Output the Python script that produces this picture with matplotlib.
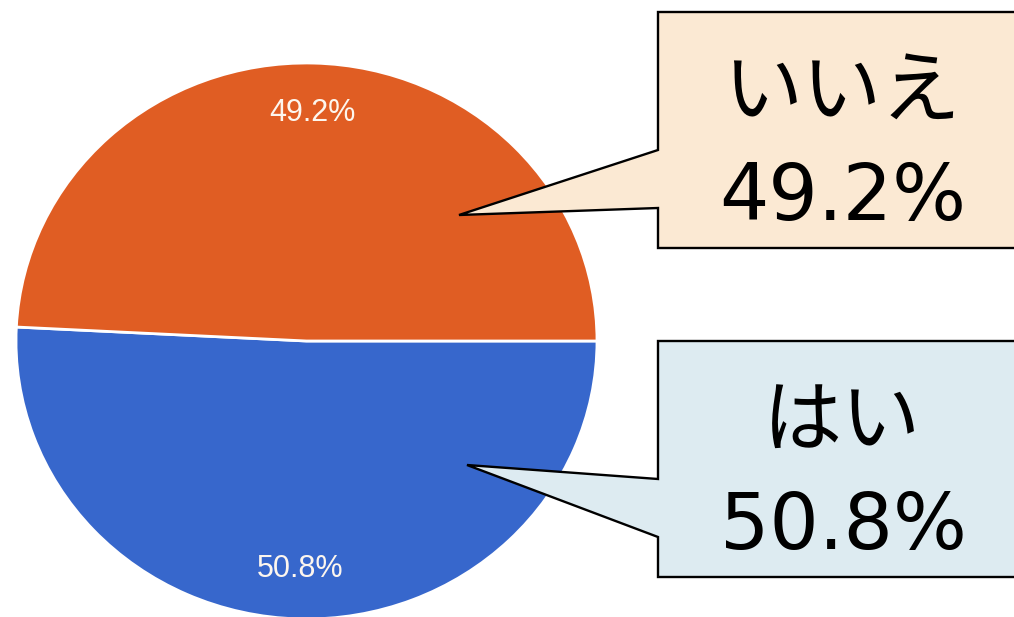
import matplotlib
matplotlib.use("Agg")
import matplotlib.pyplot as plt
from matplotlib.patches import Polygon

# data
labels = ["はい", "いいえ"]
values = [50.8, 49.2]
colors = ["#3767cc", "#e05d23"]
box_colors = ["#ddebf1", "#fbe9d3"]

W, H = 1014, 617
fig = plt.figure(figsize=(W / 100, H / 100), dpi=100)
fig.patch.set_facecolor("white")

# pie (slightly squashed vertically like the screenshot)
cx, cy, rx, ry = 306.5, 341, 290.5, 278
ax = fig.add_axes([(cx - rx) / W, (H - cy - ry) / H, 2 * rx / W, 2 * ry / H])
wedges, texts, autotexts = ax.pie(
    values, colors=colors, startangle=0, counterclock=False,
    autopct="%.1f%%", pctdistance=0.82,
    wedgeprops=dict(edgecolor="white", linewidth=2),
    textprops=dict(color="#fdf6ee", fontsize=22, family="Liberation Sans"))
ax.set_aspect("auto")
ax.set_xlim(-1, 1)
ax.set_ylim(-1, 1)
ax.axis("off")

# callout boxes, drawn in pixel coords
ov = fig.add_axes([0, 0, 1, 1])
ov.set_xlim(0, W)
ov.set_ylim(H, 0)
ov.axis("off")
ov.patch.set_alpha(0)

callouts = {
    # label index: (box top, box bottom, join top, join bottom, tip x, tip y)
    1: (12, 248, 150, 208, 459, 215),
    0: (341, 577, 479, 537, 467, 465),
}
bx0, bx1 = 658, 1030
for i, (top, bot, j0, j1, tx, ty) in callouts.items():
    pts = [(bx0, top), (bx1, top), (bx1, bot), (bx0, bot),
           (bx0, j1), (tx, ty), (bx0, j0)]
    ov.add_patch(Polygon(pts, closed=True, facecolor=box_colors[i],
                         edgecolor="black", linewidth=1.7, joinstyle="miter"))
    ov.text(842, top + 104, labels[i], ha="center", va="baseline",
            fontsize=57, family=["Noto Sans CJK JP", "DejaVu Sans"])
    ov.text(843, top + 208, f"{values[i]}%", ha="center", va="baseline",
            fontsize=56, family=["DejaVu Sans"])

fig.savefig("out.png", dpi=100)
